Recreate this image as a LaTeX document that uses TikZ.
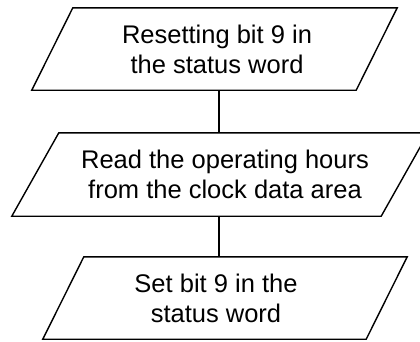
\documentclass[tikz,border=0pt]{standalone}
\usepackage{fontspec}
\setmainfont{Liberation Sans}
\usetikzlibrary{positioning}

\begin{document}
\begin{tikzpicture}[x=1pt, y=1pt,
    io/.style={minimum width=324pt, minimum height=82pt, inner sep=0pt,
        align=center, font=\fontsize{25.5pt}{30pt}\selectfont},
    outline/.style={line width=1.4pt, line join=miter},
    link/.style={line width=1.4pt}]

    % =================================================================
    % 1. KHUNG ẢNH VÀ TRỤC NỐI
    % =================================================================
    \useasboundingbox (0,0) rectangle (420,-341);
    \coordinate (spine) at (219,0);

    % =================================================================
    % 2. CÁC KHỐI VÀO/RA (chữ đặt tại tâm dòng chữ)
    % =================================================================
    \node[io] (reset) at (217,-49) {Resetting bit 9 in\\the status word};
    \node[io, minimum width=369pt, minimum height=83pt]
          (read) at (225,-174.5) {Read the operating hours\\from the clock data area};
    \node[io, minimum width=323pt] (set) at (216,-298) {Set bit 9 in the\\status word};

    % Khung hình bình hành: tên / nửa độ nghiêng / độ lệch tâm
    \foreach \n/\s/\d in {reset/20.5/-2.5, read/23.5/-5, set/20.5/9}
        \draw[outline] ([xshift=\s+\d]\n.north west) -- ([xshift=\s+\d]\n.north east)
            -- ([xshift=\d-\s]\n.south east) -- ([xshift=\d-\s]\n.south west) -- cycle;

    % =================================================================
    % 3. ĐƯỜNG NỐI
    % =================================================================
    \draw[link] (spine |- reset.south) -- (spine |- read.north);
    \draw[link] (spine |- read.south) -- (spine |- set.north);

\end{tikzpicture}
\end{document}
